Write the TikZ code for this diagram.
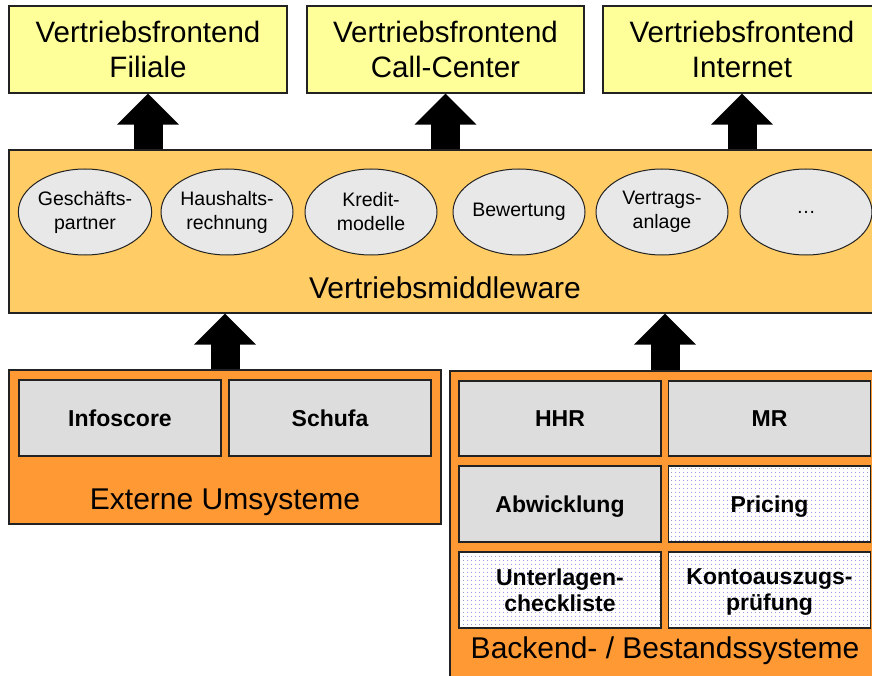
\documentclass[tikz,border=0pt]{standalone}
\usepackage{fontspec}
\setmainfont{Liberation Sans}
\usetikzlibrary{shapes.geometric,arrows.meta,patterns.meta}
\definecolor{fyellow}{HTML}{FFFF99}
\definecolor{mwcol}{HTML}{FFCC66}
\definecolor{orcol}{HTML}{FF9933}
\definecolor{greybox}{HTML}{DDDDDD}
\definecolor{ellcol}{HTML}{E8E8E8}
\definecolor{dotcol}{HTML}{5050D0}
\definecolor{edge}{HTML}{222222}
\tikzset{
  x=1pt, y=-1pt,
  frontbox/.style={draw=edge, line width=1.2pt, fill=fyellow, minimum width=278pt, minimum height=87pt,
    align=center, font=\fontsize{29.5}{35}\selectfont, inner sep=0pt},
  mwbox/.style={draw=edge, line width=1.2pt, fill=mwcol, minimum width=872pt, minimum height=163pt, inner sep=0pt},
  orbox/.style={draw=edge, line width=1.2pt, fill=orcol, inner sep=0pt},
  svc/.style={ellipse, draw=edge, line width=1pt, fill=ellcol, minimum width=132pt, minimum height=86pt,
    inner sep=0pt, align=center, font=\fontsize{19.5}{24}\selectfont},
  sysbox/.style={draw=edge, line width=1.2pt, fill=greybox, minimum width=202pt, minimum height=76pt,
    inner sep=0pt, text depth=0pt, align=center, font=\fontsize{23}{26}\selectfont\bfseries},
  dotbox/.style={sysbox, fill=none, preaction={fill=white},
    pattern={Dots[distance=4pt, radius=0.55pt]}, pattern color=dotcol},
  biglabel/.style={font=\fontsize{30}{36}\selectfont, inner sep=0pt},
  blockarrow/.style={line width=29pt, -{Triangle[width=60pt, length=31pt]}, black}
}
\begin{document}
\begin{tikzpicture}
\useasboundingbox (0,0) rectangle (872,676);
% top front ends
\node[frontbox] (f1) at (148,49.5) {Vertriebsfrontend\\Filiale};
\node[frontbox, minimum width=277pt] (f2) at (445.5,49.5) {Vertriebsfrontend\\Call-Center};
\node[frontbox] (f3) at (742,49.5) {Vertriebsfrontend\\Internet};
% middleware
\node[mwbox] (mw) at (445,231.5) {};
\node[svc] (e1) at (85,212) {Geschäfts-\\partner};
\node[svc] (e2) at (227,212) {Haushalts-\\rechnung};
\node[svc] (e3) at (371,212) {Kredit-\\modelle};
\node[svc] (e4) at (519,212) {Bewertung};
\node[svc] (e5) at (662,212) {Vertrags-\\anlage};
\node[svc] (e6) at (806,212) {\dots};
\node[biglabel] (mwl) at (445,288) {Vertriebsmiddleware};
% external systems
\node[orbox, minimum width=432pt, minimum height=154pt] (ext) at (225,447) {};
\node[sysbox] (info) at (120,418) {Infoscore};
\node[sysbox] (schufa) at (330,418) {Schufa};
\node[biglabel] (extl) at (225,502) {Externe Umsysteme};
% backend systems
\node[orbox, minimum width=430pt, minimum height=312pt] (be) at (665,527) {};
\node[sysbox, minimum height=75pt] (hhr) at (560,418.5) {HHR};
\node[sysbox, minimum height=75pt] (mr) at (769.5,418.5) {MR};
\node[sysbox] (abw) at (560,504) {Abwicklung};
\node[dotbox] (pri) at (769.5,504) {Pricing};
\node[dotbox] (ucl) at (560,590) {Unterlagen-\\checkliste};
\node[dotbox] (kap) at (769.5,590) {Kontoauszugs-\\prüfung};
\node[biglabel] (bel) at (665,651) {Backend- / Bestandssysteme};
% block arrows
\draw[blockarrow] (mw.north -| f1.south) -- (f1.south);
\draw[blockarrow] (mw.north -| f2.south) -- (f2.south);
\draw[blockarrow] (mw.north -| f3.south) -- (f3.south);
\draw[blockarrow] (ext.north) -- (ext.north |- mw.south);
\draw[blockarrow] (be.north) -- (be.north |- mw.south);
\end{tikzpicture}
\end{document}
